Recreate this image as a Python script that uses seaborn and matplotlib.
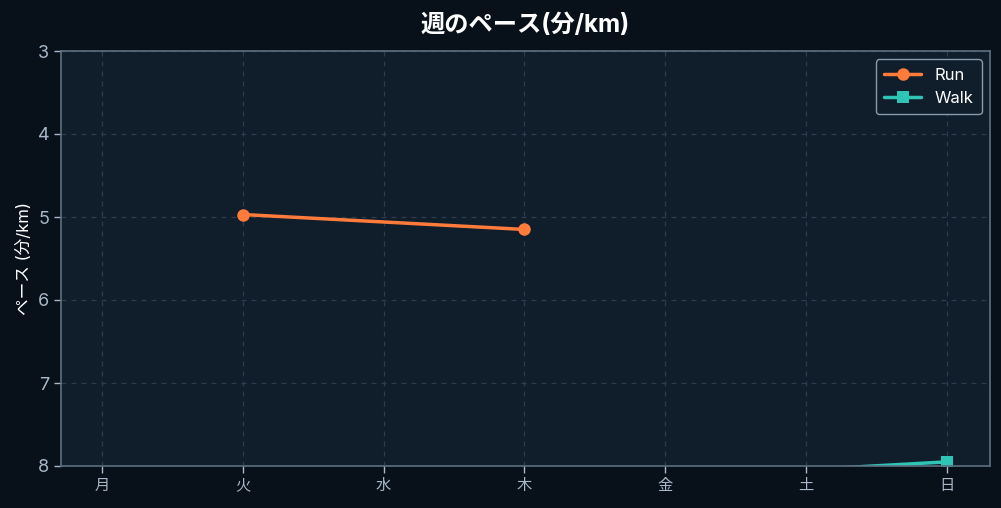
import matplotlib
matplotlib.use("Agg")
import matplotlib.pyplot as plt
import seaborn as sns
import pandas as pd
import numpy as np

days = ["月", "火", "水", "木", "金", "土", "日"]
run_days = ["火", "木"]
run_pace = [4.97, 5.15]
walk_days = ["金", "日"]
walk_pace = [8.14, 7.95]

BG = "#08101a"
AX_BG = "#101e2b"
TXT = "#a8b8c8"

sns.set_theme(style="dark")
plt.rcParams["font.family"] = ["Inter", "Noto Sans CJK JP", "DejaVu Sans"]

df = pd.concat([
    pd.DataFrame({"day": run_days, "pace": run_pace, "type": "Run"}),
    pd.DataFrame({"day": walk_days, "pace": walk_pace, "type": "Walk"}),
])
df["x"] = df["day"].map({d: i for i, d in enumerate(days)})

fig = plt.figure(figsize=(10.01, 5.08), dpi=100, facecolor=BG)
ax = fig.add_axes([61 / 1001, 1 - 466 / 508, 929 / 1001, 415 / 508])
ax.set_facecolor(AX_BG)

sns.lineplot(data=df, x="x", y="pace", hue="type", style="type",
             markers={"Run": "o", "Walk": "s"}, dashes=False,
             palette={"Run": "#ff7b3b", "Walk": "#2ec4b6"},
             linewidth=2.5, markersize=9, markeredgewidth=0, ax=ax)

ax.set_xlim(-0.29, 6.305)
ax.set_ylim(8, 3)
ax.set_xticks(range(len(days)))
ax.set_xticklabels(days)
ax.set_yticks([3, 4, 5, 6, 7, 8])
ax.tick_params(axis="x", colors=TXT, labelsize=11, length=5, width=1, direction="out", bottom=True)
ax.tick_params(axis="y", colors=TXT, labelsize=13, length=5, width=1, direction="out", left=True)
ax.grid(True, color="#2c3d4d", linestyle=(0, (4, 4)), linewidth=0.9)
for s in ax.spines.values():
    s.set_color("#5d6f80")
    s.set_linewidth(1.2)

ax.set_xlabel("")
ax.set_ylabel("ペース (分/km)", color="white", fontsize=12)
ax.set_title("週のペース(分/km)", color="white", fontsize=17.5, fontweight="bold", pad=14)

leg = ax.legend(loc="upper right", fontsize=12, facecolor=AX_BG, edgecolor="#8a9aaa",
                framealpha=1, borderpad=0.5, handlelength=2.2)
for t in leg.get_texts():
    t.set_color("white")

fig.savefig("out.png", dpi=100, facecolor=BG)
